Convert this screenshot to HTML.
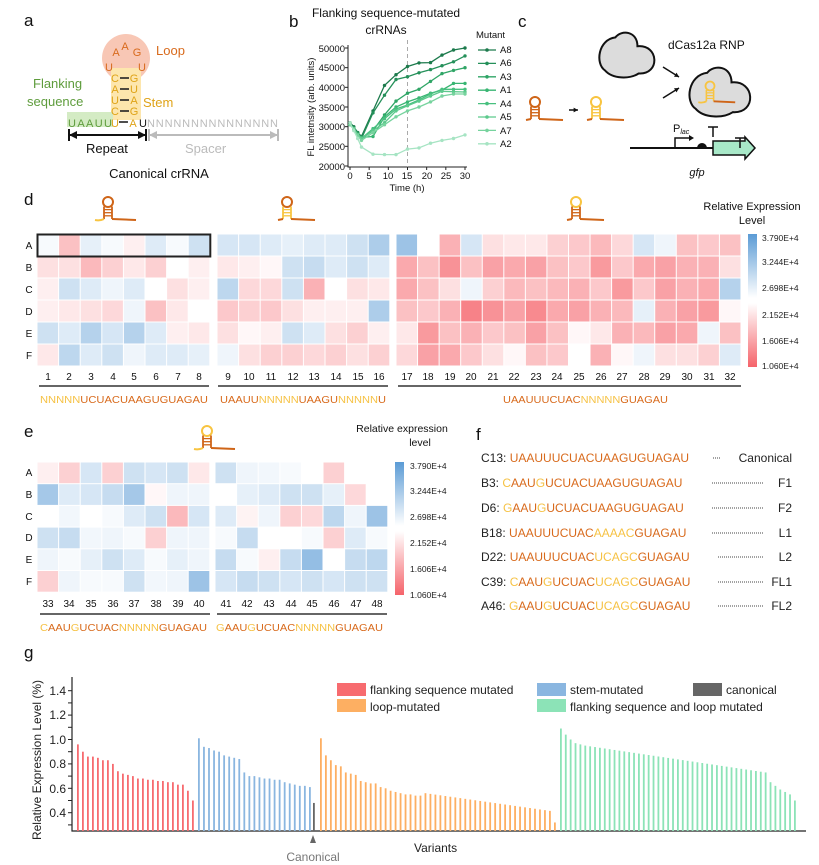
<!DOCTYPE html>
<html><head><meta charset="utf-8">
<style>
html,body{margin:0;padding:0;background:#fff;}
svg{display:block;font-family:"Liberation Sans",Arial,sans-serif;}
</style></head><body>
<svg id="s" width="819" height="865" viewBox="0 0 819 865" xmlns="http://www.w3.org/2000/svg">
<defs>
<linearGradient id="cb" x1="0" y1="0" x2="0" y2="1">
<stop offset="0" stop-color="#5b9bd5"/><stop offset="0.48" stop-color="#ffffff"/><stop offset="0.52" stop-color="#ffffff"/><stop offset="1" stop-color="#f5636a"/>
</linearGradient>
</defs>
<g id="dyn"></g>
<!-- panel letters -->
<g font-size="17" fill="#111">
<text x="24" y="26">a</text><text x="289" y="27">b</text><text x="518" y="27">c</text>
<text x="24" y="205">d</text><text x="24" y="437">e</text><text x="476" y="440">f</text><text x="24" y="658">g</text>
</g>
<!-- panel a -->
<circle cx="126" cy="58" r="24" fill="#f8c7b5"/>
<rect x="111" y="68" width="30" height="52" fill="#fde6ad"/>
<rect x="67" y="112" width="46" height="15" fill="#d4ebc4"/>
<g font-size="11" fill="#d86a1c" text-anchor="middle">
<text x="116" y="56">A</text><text x="125" y="50">A</text><text x="137" y="56">G</text>
<text x="109" y="71">U</text><text x="142" y="71">U</text>
</g>
<g font-size="11" fill="#dfa318" text-anchor="middle">
<text x="115" y="82">C</text><text x="134" y="82">G</text>
<text x="115" y="93">A</text><text x="134" y="93">U</text>
<text x="115" y="104">U</text><text x="134" y="104">A</text>
<text x="115" y="115">C</text><text x="134" y="115">G</text>
</g>
<g stroke="#222" stroke-width="1.6">
<line x1="120" y1="78" x2="129" y2="78"/><line x1="120" y1="89" x2="129" y2="89"/><line x1="120" y1="100" x2="129" y2="100"/><line x1="120" y1="111" x2="129" y2="111"/><line x1="119" y1="122" x2="128" y2="122"/>
</g>
<text x="68" y="127" font-size="11" fill="#5e9c3c" textLength="44">UAAUU</text>
<text x="115" y="127" font-size="11" fill="#dfa318" text-anchor="middle">U</text>
<text x="133" y="127" font-size="11" fill="#dfa318" text-anchor="middle">A</text>
<text x="139" y="127" font-size="11" fill="#111">U</text>
<text x="147" y="127" font-size="11" fill="#bbb" textLength="131">NNNNNNNNNNNNNNN</text>
<text x="156" y="55" font-size="13" fill="#d86a1c">Loop</text>
<text x="33" y="88" font-size="13" fill="#5e9c3c">Flanking</text>
<text x="27" y="106" font-size="13" fill="#5e9c3c">sequence</text>
<text x="143" y="107" font-size="13" fill="#dfa318">Stem</text>
<g stroke="#111" stroke-width="2"><line x1="69" y1="135" x2="146" y2="135"/><line x1="69" y1="129" x2="69" y2="141"/><line x1="146" y1="129" x2="146" y2="141"/></g>
<path d="M69 135 l8 -4 v8z M146 135 l-8 -4 v8z" fill="#111"/>
<g stroke="#bbb" stroke-width="2"><line x1="149" y1="135" x2="278" y2="135"/><line x1="149" y1="129" x2="149" y2="141"/><line x1="278" y1="129" x2="278" y2="141"/></g>
<path d="M149 135 l8 -4 v8z M278 135 l-8 -4 v8z" fill="#bbb"/>
<text x="86" y="153" font-size="13" fill="#111">Repeat</text>
<text x="185" y="153" font-size="13" fill="#bbb">Spacer</text>
<text x="159" y="178" font-size="13" fill="#111" text-anchor="middle">Canonical crRNA</text>
<!-- panel b -->
<text x="386" y="17" font-size="12" fill="#111" text-anchor="middle">Flanking sequence-mutated</text>
<text x="386" y="34" font-size="12" fill="#111" text-anchor="middle">crRNAs</text>
<text x="0" y="0" font-size="9.5" fill="#111" text-anchor="middle" transform="translate(314,107) rotate(-90)">FL intetnsity (arb. units)</text>
<g font-size="9.5" fill="#111" text-anchor="end">
<text x="345" y="52">50000</text><text x="345" y="71">45000</text><text x="345" y="91">40000</text><text x="345" y="111">35000</text><text x="345" y="130">30000</text><text x="345" y="150">25000</text><text x="345" y="170">20000</text>
</g>
<g font-size="9.5" fill="#111" text-anchor="middle">
<text x="350" y="179">0</text><text x="369" y="179">5</text><text x="388" y="179">10</text><text x="407" y="179">15</text><text x="427" y="179">20</text><text x="446" y="179">25</text><text x="465" y="179">30</text>
<text x="407" y="191">Time (h)</text>
</g>
<text x="476" y="38" font-size="9.5" fill="#111">Mutant</text>
<g font-size="9.5" fill="#111">
<text x="500" y="53">A8</text><text x="500" y="66">A6</text><text x="500" y="80">A3</text><text x="500" y="93">A1</text><text x="500" y="107">A4</text><text x="500" y="120">A5</text><text x="500" y="134">A7</text><text x="500" y="147">A2</text>
</g>
<!-- panel c -->
<text x="668" y="49" font-size="12" fill="#111">dCas12a RNP</text>
<text x="673" y="132" font-size="11" fill="#111">P<tspan font-size="7" font-style="italic" dy="2">lac</tspan></text>
<text x="697" y="176" font-size="11" fill="#111" font-style="italic" text-anchor="middle">gfp</text>
<!-- panel d text -->
<g font-size="10" fill="#111" text-anchor="middle">
<text x="29" y="249">A</text><text x="29" y="271">B</text><text x="29" y="293">C</text><text x="29" y="315">D</text><text x="29" y="337">E</text><text x="29" y="359">F</text>
<text x="29" y="476">A</text><text x="29" y="498">B</text><text x="29" y="520">C</text><text x="29" y="541">D</text><text x="29" y="563">E</text><text x="29" y="585">F</text>
</g>
<g font-size="10" fill="#111" text-anchor="middle">
<text x="48" y="380">1</text><text x="69" y="380">2</text><text x="91" y="380">3</text><text x="113" y="380">4</text><text x="134" y="380">5</text><text x="156" y="380">6</text><text x="178" y="380">7</text><text x="199" y="380">8</text>
<text x="228" y="380">9</text><text x="249" y="380">10</text><text x="271" y="380">11</text><text x="293" y="380">12</text><text x="314" y="380">13</text><text x="336" y="380">14</text><text x="358" y="380">15</text><text x="379" y="380">16</text>
<text x="407" y="380">17</text><text x="428" y="380">18</text><text x="450" y="380">19</text><text x="471" y="380">20</text><text x="493" y="380">21</text><text x="514" y="380">22</text><text x="536" y="380">23</text><text x="557" y="380">24</text><text x="579" y="380">25</text><text x="601" y="380">26</text><text x="622" y="380">27</text><text x="644" y="380">28</text><text x="665" y="380">29</text><text x="687" y="380">30</text><text x="709" y="380">31</text><text x="730" y="380">32</text>
<text x="48" y="607">33</text><text x="69" y="607">34</text><text x="91" y="607">35</text><text x="113" y="607">36</text><text x="134" y="607">37</text><text x="156" y="607">38</text><text x="178" y="607">39</text><text x="199" y="607">40</text>
<text x="226" y="607">41</text><text x="247" y="607">42</text><text x="269" y="607">43</text><text x="291" y="607">44</text><text x="312" y="607">45</text><text x="334" y="607">46</text><text x="356" y="607">47</text><text x="377" y="607">48</text>
</g>
<g stroke="#333" stroke-width="1.5">
<line x1="39" y1="386" x2="209" y2="386"/><line x1="218" y1="386" x2="388" y2="386"/><line x1="398" y1="386" x2="741" y2="386"/>
<line x1="40" y1="614" x2="210" y2="614"/><line x1="217" y1="614" x2="387" y2="614"/>
</g>
<g font-size="10.5">
<text x="40" y="403" textLength="168" lengthAdjust="spacingAndGlyphs"><tspan fill="#f6c244">NNNNN</tspan><tspan fill="#d86a1c">UCUACUAAGUGUAGAU</tspan></text>
<text x="220" y="403" textLength="166" lengthAdjust="spacingAndGlyphs"><tspan fill="#d86a1c">UAAUU</tspan><tspan fill="#f6c244">NNNNN</tspan><tspan fill="#d86a1c">UAAGU</tspan><tspan fill="#f6c244">NNNNN</tspan><tspan fill="#d86a1c">U</tspan></text>
<text x="503" y="403" textLength="165" lengthAdjust="spacingAndGlyphs"><tspan fill="#d86a1c">UAAUUUCUAC</tspan><tspan fill="#f6c244">NNNNN</tspan><tspan fill="#d86a1c">GUAGAU</tspan></text>
<text x="40" y="631" textLength="167" lengthAdjust="spacingAndGlyphs"><tspan fill="#f6c244">C</tspan><tspan fill="#d86a1c">AAU</tspan><tspan fill="#f6c244">G</tspan><tspan fill="#d86a1c">UCUAC</tspan><tspan fill="#f6c244">NNNNN</tspan><tspan fill="#d86a1c">GUAGAU</tspan></text>
<text x="216" y="631" textLength="167" lengthAdjust="spacingAndGlyphs"><tspan fill="#f6c244">G</tspan><tspan fill="#d86a1c">AAU</tspan><tspan fill="#f6c244">G</tspan><tspan fill="#d86a1c">UCUAC</tspan><tspan fill="#f6c244">NNNNN</tspan><tspan fill="#d86a1c">GUAGAU</tspan></text>
</g>
<!-- colorbars -->
<rect x="748" y="234" width="9" height="133" fill="url(#cb)"/>
<rect x="395" y="462" width="9" height="133" fill="url(#cb)"/>
<text x="752" y="210" font-size="11" fill="#111" text-anchor="middle">Relative Expression</text>
<text x="752" y="224" font-size="11" fill="#111" text-anchor="middle">Level</text>
<g font-size="8.5" fill="#222">
<text x="762" y="241">3.790E+4</text><text x="762" y="265">3.244E+4</text><text x="762" y="291">2.698E+4</text><text x="762" y="318">2.152E+4</text><text x="762" y="344">1.606E+4</text><text x="762" y="369">1.060E+4</text>
<text x="410" y="469">3.790E+4</text><text x="410" y="494">3.244E+4</text><text x="410" y="520">2.698E+4</text><text x="410" y="546">2.152E+4</text><text x="410" y="572">1.606E+4</text><text x="410" y="598">1.060E+4</text>
</g>
<text x="402" y="432" font-size="10.5" fill="#111" text-anchor="middle">Relative expression</text>
<text x="420" y="446" font-size="10.5" fill="#111" text-anchor="middle">level</text>
<!-- panel f -->
<g font-size="12">
<text x="481" y="462"><tspan fill="#222">C13: </tspan><tspan fill="#d86a1c">UAAUUUCUACUAAGUGUAGAU</tspan></text>
<text x="481" y="487"><tspan fill="#222">B3: </tspan><tspan fill="#f6c244">C</tspan><tspan fill="#d86a1c">AAU</tspan><tspan fill="#f6c244">G</tspan><tspan fill="#d86a1c">UCUACUAAGUGUAGAU</tspan></text>
<text x="481" y="512"><tspan fill="#222">D6: </tspan><tspan fill="#f6c244">G</tspan><tspan fill="#d86a1c">AAU</tspan><tspan fill="#f6c244">G</tspan><tspan fill="#d86a1c">UCUACUAAGUGUAGAU</tspan></text>
<text x="481" y="537"><tspan fill="#222">B18: </tspan><tspan fill="#d86a1c">UAAUUUCUAC</tspan><tspan fill="#f6c244">AAAAC</tspan><tspan fill="#d86a1c">GUAGAU</tspan></text>
<text x="481" y="561"><tspan fill="#222">D22: </tspan><tspan fill="#d86a1c">UAAUUUCUAC</tspan><tspan fill="#f6c244">UCAGC</tspan><tspan fill="#d86a1c">GUAGAU</tspan></text>
<text x="481" y="586"><tspan fill="#222">C39: </tspan><tspan fill="#f6c244">C</tspan><tspan fill="#d86a1c">AAU</tspan><tspan fill="#f6c244">G</tspan><tspan fill="#d86a1c">UCUAC</tspan><tspan fill="#f6c244">UCAGC</tspan><tspan fill="#d86a1c">GUAGAU</tspan></text>
<text x="481" y="610"><tspan fill="#222">A46: </tspan><tspan fill="#f6c244">G</tspan><tspan fill="#d86a1c">AAU</tspan><tspan fill="#f6c244">G</tspan><tspan fill="#d86a1c">UCUAC</tspan><tspan fill="#f6c244">UCAGC</tspan><tspan fill="#d86a1c">GUAGAU</tspan></text>
</g>
<g font-size="12" fill="#222" text-anchor="end">
<text x="792" y="462">Canonical</text><text x="792" y="487">F1</text><text x="792" y="512">F2</text><text x="792" y="537">L1</text><text x="792" y="561">L2</text><text x="792" y="586">FL1</text><text x="792" y="610">FL2</text>
</g>
<g stroke="#444" stroke-width="1" stroke-dasharray="1,1">
<line x1="713" y1="458" x2="720" y2="458"/>
<line x1="712" y1="483" x2="764" y2="483"/><line x1="712" y1="508" x2="764" y2="508"/><line x1="712" y1="533" x2="764" y2="533"/><line x1="718" y1="557" x2="764" y2="557"/><line x1="718" y1="582" x2="764" y2="582"/><line x1="718" y1="606" x2="764" y2="606"/>
</g>
<!-- panel g text -->
<text x="0" y="0" font-size="12" fill="#222" text-anchor="middle" transform="translate(41,760) rotate(-90)">Relative Expression Level (%)</text>
<g font-size="12" fill="#222" text-anchor="end">
<text x="66" y="695">1.4</text><text x="66" y="719">1.2</text><text x="66" y="744">1.0</text><text x="66" y="768">0.8</text><text x="66" y="793">0.6</text><text x="66" y="817">0.4</text>
</g>
<text x="414" y="852" font-size="12" fill="#222">Variants</text>
<text x="313" y="861" font-size="12" fill="#777" text-anchor="middle">Canonical</text>
<path d="M313 835 l-3 8 h6z" fill="#666"/>
<rect x="337" y="683" width="29" height="13" fill="#f76b6f"/><rect x="337" y="699" width="29" height="13" fill="#fdaf62"/>
<rect x="537" y="683" width="29" height="13" fill="#8ab6e0"/><rect x="537" y="699" width="29" height="13" fill="#8ce3b7"/>
<rect x="693" y="683" width="29" height="13" fill="#666"/>
<g font-size="12" fill="#222">
<text x="370" y="694">flanking sequence mutated</text><text x="370" y="711">loop-mutated</text>
<text x="570" y="694">stem-mutated</text><text x="570" y="711">flanking sequence and loop mutated</text>
<text x="726" y="694">canonical</text>
</g>
</svg>
<script>
(function(){
var NS="http://www.w3.org/2000/svg",g=document.getElementById("dyn");
function el(t,a){var e=document.createElementNS(NS,t);for(var k in a)e.setAttribute(k,a[k]);g.appendChild(e);return e;}
function col(v){var r,gg,b;if(v>=0){r=255+(245-255)*v;gg=255+(99-255)*v;b=255+(106-255)*v;}else{v=-v;r=255+(91-255)*v;gg=255+(155-255)*v;b=255+(213-255)*v;}return "rgb("+Math.round(r)+","+Math.round(gg)+","+Math.round(b)+")";}
function heat(x0,y0,w,h,data){for(var i=0;i<data.length;i++)for(var j=0;j<data[i].length;j++)el("rect",{x:x0+j*w+0.5,y:y0+i*h+0.5,width:w-1,height:h-1,fill:col(data[i][j])});}
var d1=[[-0.05,0.4,-0.15,-0.05,0.1,-0.2,-0.05,-0.3],[0.2,0.2,0.45,0.3,0.15,0.3,0,0.1],[0.1,-0.3,-0.2,-0.1,-0.2,0,0.2,0.1],[0.1,0.15,0.2,0.25,-0.1,0.4,0.15,0],[-0.3,-0.2,-0.45,-0.25,-0.45,-0.2,0.1,0.15],[0.15,-0.4,-0.2,-0.3,-0.1,-0.2,-0.2,-0.15]];
var d2=[[-0.25,-0.25,-0.2,-0.15,-0.2,-0.2,-0.3,-0.5],[0.15,0.1,0.05,-0.3,-0.35,-0.2,-0.3,-0.2],[-0.4,0.25,0.25,-0.3,0.5,0,0.2,0.15],[0.35,0.3,0.35,0.2,0.1,0.1,0.1,-0.5],[0.2,0.05,0.1,-0.3,-0.2,0.2,0.3,0.1],[-0.1,0.2,0.3,0.3,0.25,0.3,0.2,0.3]];
var d3=[[-0.6,0,0.5,-0.25,0.2,0.15,0.15,0.3,0.35,0.45,0.25,-0.25,-0.1,0.4,0.35,0.4],[0.55,0.4,0.7,0.4,0.6,0.55,0.6,0.4,0.35,0.65,0.35,0.55,0.6,0.5,0.5,0.2],[0.55,0.4,0.2,-0.1,0.3,0.45,0.4,0.45,0.5,0.35,0.65,0.35,0.6,0.5,0.55,-0.45],[0.4,0.35,0.5,0.8,0.7,0.6,0.75,0.55,0.6,0.5,0.45,-0.15,0.5,0.6,0.65,0.05],[0.15,0.65,0.4,0.5,0.35,0.4,0.6,0.4,0.05,0.15,0.5,0.45,0.6,0.55,-0.1,0.4],[0.25,0.6,0.55,0.35,0.2,0.05,0.4,0.35,0,0.5,0.05,-0.1,0.2,0.2,0.3,-0.2]];
var e1=[[0.1,0.3,-0.25,0.3,-0.3,-0.25,-0.3,0.15],[-0.55,-0.2,-0.25,-0.35,-0.55,0.05,-0.1,-0.1],[0,-0.08,0,-0.05,-0.2,-0.3,0.45,-0.25],[-0.3,-0.35,-0.08,-0.1,-0.05,0.3,-0.1,-0.1],[-0.1,-0.05,-0.15,-0.3,-0.2,-0.05,-0.15,-0.1],[0.3,-0.1,-0.05,-0.05,-0.3,-0.08,-0.1,-0.6]];
var e2=[[-0.3,-0.1,-0.08,-0.05,0,0.3,0,0],[0,-0.15,-0.2,-0.3,-0.3,-0.15,0.25,0],[-0.2,0.08,-0.1,0.3,0.25,-0.4,-0.1,-0.6],[-0.05,-0.35,0,0,-0.05,0.3,-0.2,-0.05],[-0.35,-0.05,0.1,-0.35,-0.65,0,-0.35,-0.4],[-0.25,-0.35,-0.3,-0.25,-0.3,-0.25,-0.3,-0.3]];
heat(37,234,21.6,22,d1);heat(217,234,21.6,22,d2);heat(396,234,21.56,22,d3);
heat(37,462,21.6,21.7,e1);heat(215,462,21.6,21.7,e2);
el("rect",{x:37.5,y:234.5,width:172.8,height:22,fill:"none",stroke:"#222","stroke-width":2});
function hp(x,y,s,cl,cs,ct,tailLeft){
 el("circle",{cx:x,cy:y,r:5*s,fill:"none",stroke:cl,"stroke-width":2*s});
 var sw=4*s,top=y+4.5*s,bot=y+17*s;
 el("line",{x1:x-sw,y1:top,x2:x-sw,y2:bot,stroke:cs,"stroke-width":1.8*s});
 el("line",{x1:x+sw,y1:top,x2:x+sw,y2:bot,stroke:cs,"stroke-width":1.8*s});
 for(var k=1;k<4;k++)el("line",{x1:x-sw,y1:top+k*3.1*s,x2:x+sw,y2:top+k*3.1*s,stroke:cs,"stroke-width":1.3*s});
 el("path",{d:"M"+(x+sw)+" "+bot+" L"+(x+28*s)+" "+(bot+1),fill:"none",stroke:ct,"stroke-width":2*s});
 if(tailLeft)el("path",{d:"M"+(x-sw)+" "+bot+" Q"+(x-8*s)+" "+(bot+2)+" "+(x-13*s)+" "+(bot+1),fill:"none",stroke:tailLeft,"stroke-width":2*s});
 else el("path",{d:"M"+(x-sw)+" "+bot+" L"+(x-9*s)+" "+(bot+1),fill:"none",stroke:ct,"stroke-width":2*s});
}
var O="#cf6518",Y="#f8c440";
hp(108,202,1,O,O,O,Y);hp(287,202,1,O,Y,O,null);hp(576,202,1,Y,O,O,null);hp(207,431,1,Y,O,O,Y);
hp(535,102,1,O,O,O,null);hp(596,102,1,Y,Y,O,null);
function cloud(cx,cy,w,h){var x=cx-w/2,y=cy-h/2;
 el("path",{d:"M"+(x+w*0.12)+" "+(y+h*0.85)+" C"+(x-w*0.05)+" "+(y+h*0.7)+" "+(x)+" "+(y+h*0.15)+" "+(x+w*0.3)+" "+(y+h*0.1)+" C"+(x+w*0.4)+" "+(y-h*0.08)+" "+(x+w*0.68)+" "+(y-h*0.05)+" "+(x+w*0.68)+" "+(y+h*0.3)+" C"+(x+w*1.05)+" "+(y+h*0.25)+" "+(x+w*1.08)+" "+(y+h*0.95)+" "+(x+w*0.7)+" "+(y+h*0.92)+" C"+(x+w*0.55)+" "+(y+h*1.05)+" "+(x+w*0.25)+" "+(y+h*1.05)+" "+(x+w*0.12)+" "+(y+h*0.85)+"Z",fill:"#dcdcdc",stroke:"#111","stroke-width":2});}
cloud(627,55,58,44);cloud(720,92,64,48);
hp(710,86,0.9,Y,Y,O,Y);
function arr(x1,y1,x2,y2){el("line",{x1:x1,y1:y1,x2:x2,y2:y2,stroke:"#111","stroke-width":1.5});var a=Math.atan2(y2-y1,x2-x1),L=5;el("path",{d:"M"+x2+" "+y2+" L"+(x2-L*Math.cos(a-0.5))+" "+(y2-L*Math.sin(a-0.5))+" L"+(x2-L*Math.cos(a+0.5))+" "+(y2-L*Math.sin(a+0.5))+"Z",fill:"#111"});}
arr(663,67,679,77);arr(663,98,679,88);arr(569,110,578,110);
el("line",{x1:630,y1:148,x2:748,y2:148,stroke:"#111","stroke-width":2});
el("path",{d:"M675 148 V138 H692",fill:"none",stroke:"#111","stroke-width":1.5});el("path",{d:"M694 138 l-5 -3 v6z",fill:"#111"});
el("path",{d:"M697 148 a5 5 0 0 1 10 0z",fill:"#111"});
el("path",{d:"M713 141 H745 V137 L755 148 L745 159 V155 H713Z",fill:"#a8e8c8",stroke:"#111","stroke-width":1.5});
el("path",{d:"M713 137 V127 M708 127 H718 M740 148 V138 M735 138 H745",fill:"none",stroke:"#111","stroke-width":1.5});
el("path",{d:"M348 45 V167 H467",fill:"none",stroke:"#222","stroke-width":1});
[50000,45000,40000,35000,30000,25000,20000].forEach(function(v){var y=48+(50000-v)*0.003933;el("line",{x1:345,y1:y,x2:348,y2:y,stroke:"#222"});});
for(var t=0;t<=30;t+=5){var x=350+t*3.833;el("line",{x1:x,y1:167,x2:x,y2:170,stroke:"#222"});}
el("line",{x1:407.5,y1:40,x2:407.5,y2:167,stroke:"#aaa","stroke-dasharray":"4,3"});
var T=[0,1,2,3,6,9,12,15,18,21,24,27,30];
var L=[[31000,30000,28500,27500,34000,40500,43200,45300,46200,46300,48200,49500,50000],
[30500,29800,28500,27000,33500,38000,42000,42700,43700,44500,45500,46500,48000],
[30500,29500,28000,27000,29000,33000,36500,38500,39500,41500,43500,44300,45000],
[30500,29500,28000,27300,27500,32500,35000,36300,37300,38500,39300,41000,41000],
[30500,29500,28000,27000,29500,32000,34500,35500,36800,38300,39500,39500,39500],
[30500,29500,28000,27000,29000,31000,34000,35300,36500,37800,39000,38900,38800],
[30500,29300,27800,26500,28500,30500,32500,34000,35000,36300,37800,38300,38300],
[31000,29000,27000,24800,23000,22900,22900,24300,24600,25800,26500,27000,27900]];
var C=["#1c7a4c","#25905a","#2fa566","#38b572","#48c07f","#5cc98c","#77d39e","#a6e4c3"];
L.forEach(function(s,i){var p=s.map(function(v,k){return (350+T[k]*3.833).toFixed(1)+","+(48+(50000-v)*0.003933).toFixed(1);});
 el("polyline",{points:p.join(" "),fill:"none",stroke:C[i],"stroke-width":1.3});
 p.forEach(function(q){var a=q.split(",");el("circle",{cx:a[0],cy:a[1],r:1.7,fill:C[i]});});
 var ly=50+i*13.4;el("line",{x1:478,y1:ly,x2:496,y2:ly,stroke:C[i],"stroke-width":1.3});el("circle",{cx:487,cy:ly,r:1.8,fill:C[i]});});
el("path",{d:"M72 677 V831 H806",fill:"none",stroke:"#222","stroke-width":1.2});
for(var v=0.3;v<1.46;v+=0.1){var y=831-(v-0.25)*122;el("line",{x1:68,y1:y,x2:72,y2:y,stroke:"#222"});}
function yv(v){return 831-(v-0.25)*122;}
var red=[0.96,0.9,0.86,0.86,0.85,0.83,0.83,0.8,0.74,0.72,0.71,0.70,0.68,0.68,0.67,0.67,0.66,0.66,0.65,0.65,0.63,0.63,0.58,0.5];
var blue=[1.01,0.94,0.93,0.91,0.9,0.87,0.86,0.85,0.84,0.73,0.7,0.7,0.69,0.68,0.68,0.67,0.67,0.65,0.64,0.63,0.62,0.62,0.61];
var orange=[1.01,0.87,0.83,0.79,0.78,0.73,0.72,0.71,0.66,0.65,0.64,0.64,0.61,0.6,0.58,0.57,0.56,0.55,0.55,0.54,0.54];
for(var k=0;k<26;k++)orange.push(0.56-k*0.0058);orange.push(0.32);
var green=[1.09,1.04,1.0,0.97,0.96];
for(var k=0;k<38;k++)green.push(0.95-k*(0.22/37));
green.push(0.65,0.62,0.59,0.57,0.55,0.50);
function bars(x0,dx,arr,c){arr.forEach(function(v,i){var x=x0+i*dx,y=yv(v);el("rect",{x:x,y:y,width:1.8,height:831-y,fill:c});});}
bars(77,(192-77)/23,red,"#f76b6f");bars(198,(309-198)/22,blue,"#8ab6e0");bars(313,1,[0.48],"#666");
bars(320,(554-320)/(orange.length-1),orange,"#fdaf62");bars(560,(794-560)/(green.length-1),green,"#8ce3b7");
})();
</script>
</body></html>
